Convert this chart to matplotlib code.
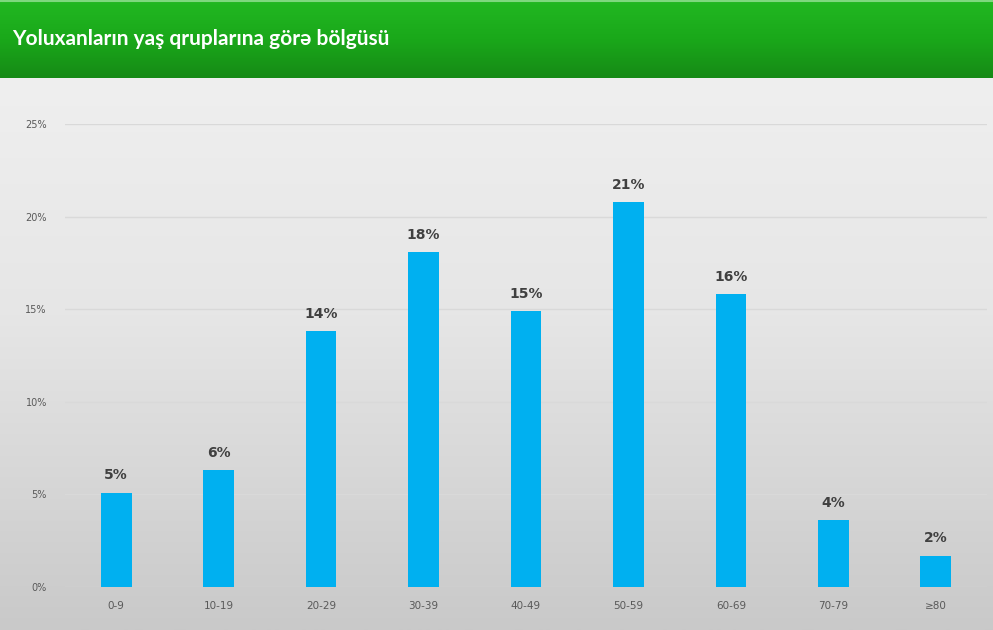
import numpy as np
import matplotlib.pyplot as plt
from matplotlib.colors import LinearSegmentedColormap

groups = ["0-9", "10-19", "20-29", "30-39", "40-49", "50-59", "60-69", "70-79", "≥80"]
shares = [5.1, 6.3, 13.8, 18.1, 14.9, 20.8, 15.8, 3.6, 1.7]
labels = ["5%", "6%", "14%", "18%", "15%", "21%", "16%", "4%", "2%"]
yticks = [0, 5, 10, 15, 20, 25]

W, H = 993, 630
fig = plt.figure(figsize=(W / 100, H / 100), dpi=100)

# background gradient
bg = fig.add_axes([0, 0, 1, 1], zorder=0)
grad = np.linspace(0, 1, 256).reshape(-1, 1)
bgcmap = LinearSegmentedColormap.from_list("bg", ["#f2f2f2", "#e6e6e6", "#c9c9c9"])
bg.imshow(grad, aspect="auto", cmap=bgcmap, extent=[0, 1, 0, 1], origin="upper")
bg.set_xlim(0, 1)
bg.set_ylim(0, 1)
bg.axis("off")

# green header
hdr = fig.add_axes([0, 1 - 78 / H, 1, 78 / H], zorder=1)
hgrad = np.linspace(0, 1, 256).reshape(-1, 1)
gcmap = LinearSegmentedColormap.from_list("g", ["#22b822", "#1aa81a", "#168a16"])
hdr.imshow(hgrad, aspect="auto", cmap=gcmap, extent=[0, 1, 0, 1], origin="upper")
hdr.axhline(0.985, color="#7fd87f", lw=1.5)
hdr.set_xlim(0, 1)
hdr.set_ylim(0, 1)
hdr.axis("off")
hdr.text(12 / W, 0.50, "Yoluxanların yaş qruplarına görə bölgüsü", color="white",
         fontsize=15, fontweight="bold", family="Lato", va="center", ha="left")

ax = fig.add_axes([65 / W, (H - 587) / H, (987 - 65) / W, (587 - 124) / H], zorder=2)
ax.patch.set_alpha(0)
x = np.arange(len(groups))
bars = ax.bar(x, shares, width=0.3, color="#00b0f0", zorder=3)
for b, lab in zip(bars, labels):
    ax.text(b.get_x() + b.get_width() / 2, b.get_height() + 0.55, lab,
            ha="center", va="bottom", fontsize=10, fontweight="bold", color="#404040")

ax.set_xlim(-0.5, len(groups) - 0.5)
ax.set_ylim(0, 25)
ax.set_yticks(yticks)
ax.set_yticklabels([f"{t}%" for t in yticks])
ax.set_xticks(x)
ax.set_xticklabels(groups)
ax.tick_params(axis="y", length=0, pad=13, labelsize=7, labelcolor="#595959")
ax.tick_params(axis="x", length=0, pad=10, labelsize=7.5, labelcolor="#595959")
ax.grid(axis="y", color="#d9d9d9", lw=1, zorder=0)
ax.set_axisbelow(True)
for s in ax.spines.values():
    s.set_visible(False)

fig.savefig("out.png", dpi=100)
